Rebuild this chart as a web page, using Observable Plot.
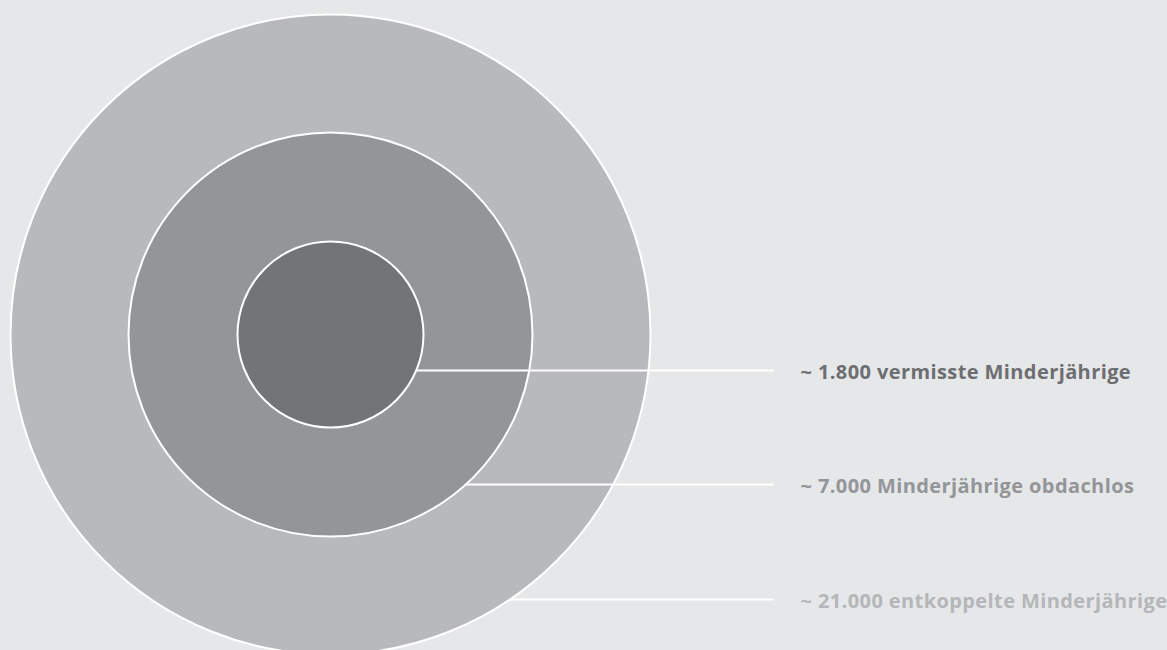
<!DOCTYPE html>
<html>
<head>
<meta charset="utf-8">
<script src="https://cdn.jsdelivr.net/npm/d3@7"></script>
<script src="https://cdn.jsdelivr.net/npm/@observablehq/plot@0.6"></script>
<style>
  html, body { margin: 0; padding: 0; background: #e6e7e8; }
  #chart svg { display: block; }
  #chart svg text { letter-spacing: 0.4px; }
</style>
</head>
<body>
<div id="chart"></div>
<script>
// Data
const groups = ["vermisst", "obdachlos", "entkoppelt"];
const values = [1800, 7000, 21000];
const labels = ["~ 1.800 vermisste Minderjährige", "~ 7.000 Minderjährige obdachlos", "~ 21.000 entkoppelte Minderjährige"];
const fills = ["#737478", "#939598", "#b8b9bc"];
const labelColors = ["#6d6e71", "#939598", "#b5b6b9"];

// Layout (pixels)
const W = 1167, H = 650;
const cx = 330, cy = 334;
const rowY = [370, 484, 599];     // leader line rows
const lineEnd = 774, labelX = 800;

const rScale = {type: "linear", domain: [0, 1800, 7000, 21000], range: [0, 93, 202, 320]};
const rs = Plot.scale({r: rScale});

const data = groups.map((g, i) => ({g, value: values[i], label: labels[i], fill: fills[i], lc: labelColors[i]}));
const leaders = data.map((d, i) => {
  const r = rs.apply(d.value);
  const dy = rowY[i] - cy;
  return {...d, y: dy, x1: Math.sqrt(Math.max(0, r * r - dy * dy)), x2: lineEnd - cx, lx: labelX - cx};
});

const chart = Plot.plot({
  width: W, height: H,
  margin: 0,
  style: {background: "#e6e7e8", fontFamily: "'Open Sans', sans-serif"},
  x: {domain: [-cx, W - cx], axis: null},
  y: {domain: [-cy, H - cy], axis: null, reverse: true},
  r: rScale,
  marks: [
    Plot.dot(data, {x: () => 0, y: () => 0, r: "value", fill: "fill", stroke: "white", strokeWidth: 2, fillOpacity: 1}),
    Plot.ruleY(leaders, {y: "y", x1: "x1", x2: "x2", stroke: "white", strokeWidth: 2}),
    Plot.text(leaders, {x: "lx", y: "y", text: "label", fill: "lc", textAnchor: "start", fontSize: 20, fontWeight: 700, dy: 2})
  ]
});
document.getElementById("chart").appendChild(chart);
</script>
</body>
</html>
